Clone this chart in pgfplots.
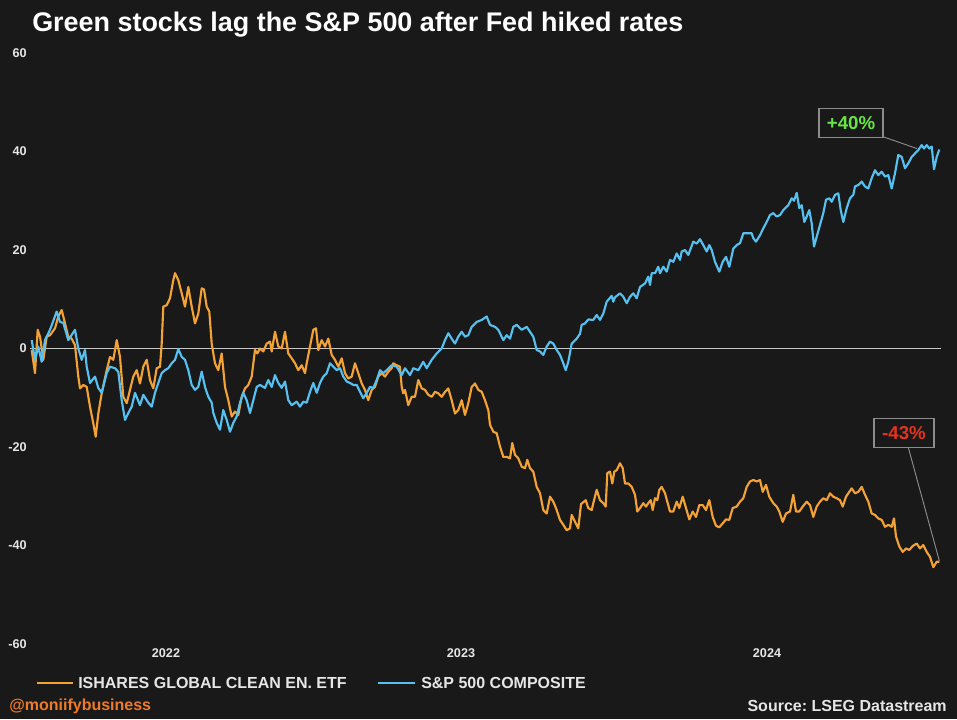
\documentclass[border=0pt]{standalone}
\usepackage{fontspec}
\setmainfont{Liberation Sans}
\usepackage{pgfplots}
\pgfplotsset{compat=1.18}
\definecolor{bg}{HTML}{191919}
\definecolor{icln}{HTML}{F4A236}
\definecolor{spx}{HTML}{56C1F0}
\definecolor{upg}{HTML}{66E645}
\definecolor{dnr}{HTML}{E8321E}
\definecolor{boxg}{HTML}{8C8C8C}
\definecolor{zerol}{HTML}{C8C8C8}
\definecolor{tickc}{HTML}{E6E6E6}
\definecolor{handle}{HTML}{EE7A2A}
\begin{document}
\begin{tikzpicture}
\fill[bg] (0,0) rectangle (717.75pt,539.25pt);
\node[anchor=base west, inner sep=0, text=white, font=\fontsize{20.2}{24}\selectfont\bfseries] at (24pt,515.6pt) {Green stocks lag the S\&P 500 after Fed hiked rates};
\begin{axis}[
  at={(22.5pt,56.25pt)}, anchor=south west,
  scale only axis, width=684pt, height=443.25pt,
  xmin=30, xmax=942, ymin=-60, ymax=60,
  axis line style={draw=none}, tick style={draw=none},
  ytick={-60,-40,-20,0,20,40,60},
  yticklabels={-60,-40,-20,0,20,40,60},
  xtick={166,461,767}, xticklabels={2022,2023,2024},
  ticklabel style={text=tickc, font=\fontsize{9.5}{11}\selectfont\bfseries},
  yticklabel style={xshift=1pt},
  clip=false,
]
\draw[zerol, line width=0.8pt] (axis cs:30,0) -- (axis cs:941,0);
\addplot[icln, line width=1.6pt, line join=round] coordinates {
(31.7,-0.3)(35,-5)(37.7,3.8)(40,2.4)(43.3,-2.3)(46.7,2.4)(50,2.7)(55,4.1)(58.3,6.5)(61.7,7.8)
(65,5.1)(68.3,2.4)(71.7,2)(75,0.7)(78.3,-5.7)(80,-8.1)(83.3,-7.4)(86.7,-7.8)(90,-11.8)(93.3,-15.2)
(95.7,-17.9)(98.3,-13.2)(101.7,-9.1)(106.7,-4.4)(110,-1.7)(113.3,-2.3)(116.7,1.7)(120,-1.7)(123.3,-9.8)(126.7,-11.1)
(130,-8.4)(133.3,-5.7)(136.7,-4.4)(140,-7.1)(143.3,-3.7)(146.7,-2.3)(150,-6.4)(153.3,-8.1)(156.7,-4)(160,-3.7)
(161.7,1)(163.3,8.5)(166.7,8.8)(170,10.2)(173.3,13.9)(175,15.3)(178.3,13.9)(181.7,11.2)(185,8.5)(188.3,12.5)
(191.7,8.5)(195,5.1)(198.3,7.1)(201.7,12.2)(204,12)(206.7,8.5)(209.3,7.5)(211.7,1)(215,-3)(218.3,-4.4)
(221.7,-1)(225,-7.8)(228.3,-10.5)(231.7,-13.8)(235,-12.8)(238.3,-13.5)(241.7,-9.8)(245,-8.1)(248.3,-7.4)(251.7,-5.7)
(255,-0.3)(257.3,-1)(260,0)(263.3,-0.6)(266.7,1)(270,1.4)(271.7,-0.6)(275,3.4)(278.3,0.4)(281.7,0)
(285,3.4)(288.3,-1)(291.7,-2)(295,-3)(298.3,-4.4)(301.7,-3.4)(305,-5)(306.7,-3)(310,0.4)(313.3,3.8)
(316,4.1)(318.3,-0.3)(321.7,1.7)(325,0.4)(328.3,2)(331.7,-1.3)(335,-2.3)(338.3,-3.7)(341.7,-2)(345,-5)
(348.3,-6.1)(351.7,-5.7)(355,-3)(358.3,-5)(361.7,-7.1)(365,-8.4)(368.3,-10.5)(371.7,-8.4)(375,-7.8)(378.3,-5.7)
(381.7,-5)(385,-5.7)(388.3,-4.7)(391.7,-4)(393.3,-3)(396.7,-3.4)(400,-3.7)(401.7,-7.8)(403.3,-9.1)(405,-8.4)
(408.3,-11.5)(411.7,-9.8)(415,-9.8)(418.3,-6.4)(421.7,-8.1)(425,-8.4)(428.3,-9.4)(431.7,-9.8)(435,-8.8)(438.3,-9.1)
(441.7,-9.8)(445,-8.8)(448.3,-8.1)(451.7,-10.5)(455,-13.2)(458.3,-12.5)(461.7,-10.5)(465,-13.5)(468.3,-11.1)(471.7,-7.8)
(475,-7.1)(478.3,-8.4)(481.7,-8.8)(485,-10.5)(488.3,-12.5)(490,-15.5)(493.3,-16.9)(496.7,-17.2)(500,-19.9)(503.3,-22)
(506.7,-22)(510,-22.3)(512.3,-19.2)(515,-21.6)(518.3,-22.3)(521.7,-24)(525,-24.3)(527.3,-22.6)(530,-24.3)(533.3,-25)
(536.7,-28.1)(540,-29.4)(543.3,-32.8)(546.7,-33.5)(550,-30.1)(553.3,-31.1)(556.7,-32.8)(560,-34.8)(563.3,-35.8)(566.7,-36.9)
(570,-36.5)(571.7,-33.8)(575,-35.2)(578.3,-36.5)(581,-31.6)(585.7,-30.8)(588.3,-32.4)(591.7,-32.8)(593.3,-31.4)(596.7,-28.7)
(600,-30.8)(603.3,-31.4)(605.7,-32.1)(607.3,-25.3)(610,-25)(612.3,-27.4)(614.3,-25)(616.7,-24.7)(620,-23.3)(622.7,-24.3)
(625,-27.4)(628.3,-27.4)(631.7,-28.1)(635,-29.7)(637.3,-33.1)(640,-32.4)(643.3,-31.4)(646,-32.1)(648.3,-31.4)(650.7,-30.8)
(652.7,-32.8)(655,-30.4)(657.3,-30.8)(659.3,-28.7)(661.7,-28.1)(665,-29.4)(667.3,-31.1)(670,-33.1)(673.3,-33.1)(676.7,-31.1)
(679.3,-32.4)(682.7,-30.1)(686,-32.4)(689.3,-34.7)(692.7,-33.1)(696,-34.2)(699.3,-31.8)(702.7,-31.8)(706,-32.8)(709.3,-30.8)
(712.7,-34.2)(716,-36)(719.3,-36.3)(722.7,-35.5)(726,-34.7)(729.3,-34.8)(732.7,-32.4)(736.7,-32.1)(740,-31.1)(743.3,-30.4)
(746.7,-28.1)(750,-27)(753.3,-26.7)(756.7,-27)(760,-26.7)(762.7,-29.1)(766,-27.7)(769.3,-30.1)(773.3,-31.4)(776.7,-32.1)
(779.3,-33.1)(782.7,-35.2)(786,-33.5)(790,-33.1)(793.3,-29.7)(796,-33.1)(799.3,-33.1)(802.7,-32.1)(806.7,-31.1)(810,-31.8)
(813.3,-34.2)(816.7,-32.1)(820,-31.1)(823.3,-30.4)(826.7,-30.8)(830,-29.4)(833.3,-30.1)(836.7,-30.4)(840,-30.8)(842.7,-32.1)
(846,-30.1)(849.3,-29.1)(851.7,-28.4)(855,-29.4)(858.3,-29.1)(861.7,-28.1)(865,-29.7)(868.3,-31.1)(871.7,-33.5)(875,-33.8)
(878.3,-34.5)(881.7,-34.8)(885,-36.2)(888.3,-35.8)(891.7,-36.2)(894,-34.5)(896,-38.2)(899.3,-40.2)(902.7,-41.3)(906,-40.6)
(909.3,-40.9)(912.7,-40.1)(916.7,-39.6)(920,-40.6)(923.3,-39.9)(926.7,-41.3)(930,-42.3)(933.3,-44.4)(936.7,-43.3)(939.3,-43.3)
};
\addplot[spx, line width=1.6pt, line join=round] coordinates {
(31.7,1.7)(35,-2.3)(38.3,0.4)(41.7,-2.7)(45,1.7)(50,3.8)(56.7,7.5)(60,5.4)(63.3,5.2)(68.3,1.7)
(75,3.8)(78.3,0)(81.7,-2.3)(85,-0.3)(86.7,-3.7)(90,-7)(95,-5.7)(98.3,-8)(101.7,-9)(106.7,-5)
(110,-3.7)(115,-4)(118.3,-4.7)(121.7,-10.5)(125,-14.5)(128.3,-13.1)(131.7,-11.8)(135,-9)(140,-11.5)(143.3,-9.4)
(148.3,-11)(151.7,-11.8)(155,-9)(158.3,-7)(161.7,-5)(165,-4.4)(168.3,-4)(171.7,-3)(175,-2.3)(178.3,-0.1)
(181.7,-1.7)(185,-2.3)(188.3,-4.4)(191.7,-7.4)(195,-8.4)(198.3,-7.8)(201.7,-4.7)(205,-7.8)(208.3,-9.8)(211.7,-11)
(213.3,-13.1)(216.7,-15.1)(220,-16.5)(223.3,-12.5)(226.7,-14.5)(230,-16.9)(233.3,-15.1)(236.7,-13.8)(240,-11)(243.3,-9)
(246.7,-10.5)(250,-13.1)(253.3,-10.5)(256.7,-7.8)(260,-7.4)(265,-8)(268.3,-6.4)(271.7,-7.8)(275,-5.4)(278.3,-7)
(281.7,-8)(285,-6.7)(288.3,-10.5)(291.7,-11.5)(296.7,-10.8)(300,-11.8)(303.3,-10.8)(306.7,-11)(310,-8.8)(313.3,-7)
(316.7,-9)(320,-7)(323.3,-5.7)(326.7,-5)(330,-3)(333.3,-3.7)(336.7,-4.4)(340,-4)(343.3,-5.7)(346.7,-6.7)
(350,-7)(353.3,-7.4)(356.7,-7.4)(360,-8.8)(363.3,-10.1)(366.7,-9)(370,-7.8)(373.3,-8)(376.7,-6.4)(380,-4.4)
(383.3,-5)(386.7,-4.4)(391.7,-3.4)(396.7,-3.7)(401.7,-5.4)(405,-4)(410,-5.4)(413.3,-4)(418.3,-4.4)(423.3,-2.7)
(426.7,-4)(431.7,-2.3)(436.7,-1)(441.7,0)(445,1.7)(448.3,3.1)(451.7,2)(455,1)(458.3,2.4)(461.7,3.4)
(465,2.4)(468.3,2.7)(471.7,4.4)(476.7,5.4)(481.7,5.8)(486.7,6.5)(490,4.8)(495,4.4)(498.3,3.8)(503.3,1.7)
(506.7,2.7)(510,2)(513.3,4.4)(516.7,4.8)(521.7,3.8)(526.7,4.4)(530,3.4)(533.3,2.4)(536.7,-0.3)(540,-0.6)
(543.3,-1.3)(546.7,0.4)(550,1.4)(553.3,1)(556.7,-0.3)(560,-1.3)(563.3,-3)(565.7,-4.4)(568.3,-2.7)(571.7,1)
(576.7,2)(580,3)(581.7,4.8)(585,5.1)(588.3,5.9)(593.3,5.8)(596.7,6.8)(600,5.8)(603.3,7.1)(606.7,9.5)
(611.7,10.7)(613.3,9.5)(615,10.4)(620,11.2)(623.3,10.5)(626.7,9.2)(630,10.5)(633.3,11.2)(636.7,10.2)(640,12.5)
(645,13.2)(648.3,14.6)(650,12.9)(651.7,15.3)(655,15.3)(658.3,16.6)(660,15.3)(663.3,16.6)(666.7,15.6)(670,18)
(673.3,17.6)(676.7,19.3)(680,18)(681.7,19.7)(685,20)(688.3,19)(693.3,21.7)(696.7,21.3)(700,22.2)(703.3,21)
(706.7,19.7)(709.3,21)(711.7,20)(715,17.6)(719.3,15.6)(722.7,17.6)(726,18.6)(729.3,16.6)(733.3,20.3)(736.7,21)
(740,21.4)(743.3,23.4)(748.3,23.4)(751.7,23.4)(753.3,22.4)(756,21.7)(760,23)(763.3,24.4)(766.7,25.7)(770,27.1)
(773.3,27.5)(776.7,26.8)(780,27.1)(783.3,28.1)(788.3,29.1)(791.7,30.5)(794,30)(796.7,31.6)(799.3,28.5)(801.7,29.1)
(804.3,25.7)(806.7,26.8)(809.3,28.1)(811.7,25.4)(814,20.7)(816.7,22.7)(820,25.1)(823.3,27.5)(826,30.2)(829.3,30.5)
(831.7,29.8)(835,31.2)(838.3,31.5)(840.7,28.1)(843.3,25.7)(846.7,28.5)(850,30.5)(853.3,31.2)(855,32.9)(858.3,33.2)
(861.7,33.9)(865,32.9)(868.3,32.5)(871.7,34.6)(875,36.2)(878.3,35.2)(881.7,35.9)(885,34.9)(888.3,35.2)(891.7,32.5)
(895,35.6)(898.3,39.3)(901.7,38.9)(905,36.6)(908.3,37.6)(911.7,38.9)(915,39.6)(918.3,40.3)(921.7,41.3)(924,40.6)
(926.7,41.3)(929.3,40.6)(931.7,41)(934,36.4)(936.7,38.9)(939.3,40.4)
};
\draw[boxg, line width=0.7pt] (axis cs:883,43.0) -- (axis cs:917,40.6);
\node[draw=boxg, line width=0.8pt, fill=bg, minimum width=48pt, minimum height=21.75pt, inner sep=0, text=upg, font=\fontsize{14}{16}\selectfont\bfseries] at (axis cs:851,45.7) {+40\%};
\draw[boxg, line width=0.7pt] (axis cs:908.3,-20.1) -- (axis cs:939.3,-43.1);
\node[draw=boxg, line width=0.8pt, fill=bg, minimum width=45pt, minimum height=21.75pt, inner sep=0, text=dnr, font=\fontsize{14}{16}\selectfont\bfseries] at (axis cs:904,-17.1) {-43\%};
\end{axis}
\draw[icln, line width=1.6pt] (27.75pt,27pt) -- (54.75pt,27pt);
\node[anchor=west, inner sep=0, text=tickc, font=\fontsize{12}{14}\selectfont\bfseries] at (58.5pt,27pt) {ISHARES GLOBAL CLEAN EN.\ ETF};
\draw[spx, line width=1.6pt] (283.5pt,27pt) -- (311.25pt,27pt);
\node[anchor=west, inner sep=0, text=tickc, font=\fontsize{12}{14}\selectfont\bfseries] at (315.75pt,27pt) {S\&P 500 COMPOSITE};
\node[anchor=west, inner sep=0, text=handle, font=\fontsize{12}{14}\selectfont\bfseries] at (6.75pt,9.75pt) {@moniifybusiness};
\node[anchor=east, inner sep=0, text=tickc, font=\fontsize{12}{14}\selectfont\bfseries] at (710.25pt,9.75pt) {Source:\ LSEG Datastream};
\end{tikzpicture}
\end{document}
